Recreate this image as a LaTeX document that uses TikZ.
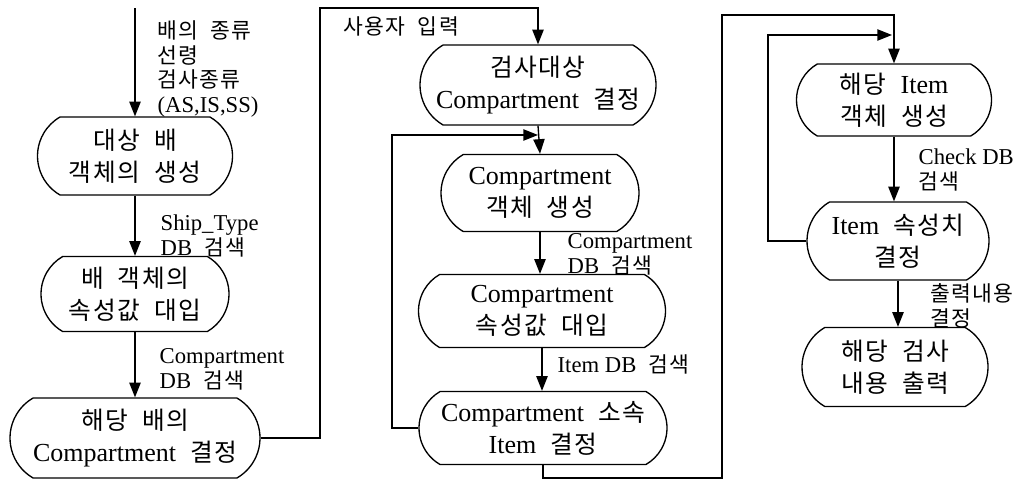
\documentclass[tikz,border=0pt]{standalone}
\usepackage{fontspec}
\setmainfont{Liberation Serif}
\newfontfamily\kr{Noto Sans CJK KR}[Scale=0.95,LetterSpace=6,WordSpace=2]
\usetikzlibrary{shapes.misc,arrows.meta,calc}
\newcommand\K[1]{{\kr #1}}
\tikzset{
  proc/.style 2 args={draw, rounded rectangle, rounded rectangle arc length=120,
    minimum width=#1*0.75pt, minimum height=#2*0.75pt, inner sep=0pt, align=center,
    font=\fontsize{19.5pt}{24pt}\selectfont},
  lbl/.style={anchor=north west, inner sep=0pt, align=left,
    font=\fontsize{17pt}{18.5pt}\selectfont},
  arr/.style={-{Triangle[length=11pt,width=8.5pt]}},
}
\begin{document}
\begin{tikzpicture}[x=0.75pt, y=-0.75pt, line width=1pt]
\useasboundingbox (0,0) rectangle (1027,480);
% column 1
\node[proc={195}{78}] (n1) at (135,156) {\K{대상 배}\\\K{객체의 생성}};
\node[proc={188}{75}] (n2) at (135,294) {\K{배 객체의}\\\K{속성값 대입}};
\node[proc={250}{80}] (n3) at (135,438) {\K{해당 배의}\\Compartment\K{ 결정}};
% column 2
\node[proc={236}{80}] (n4) at (538,85) {\K{검사대상}\\Compartment\K{ 결정}};
\node[proc={198}{77}] (n5) at (540,193) {Compartment\\\K{객체 생성}};
\node[proc={247}{73}] (n6) at (542,311) {Compartment\\\K{속성값 대입}};
\node[proc={248}{73}] (n7) at (543,428) {Compartment\K{ 소속}\\Item\K{ 결정}};
% column 3
\node[proc={195}{72}] (n8) at (894,100) {\K{해당 }Item\\\K{객체 생성}};
\node[proc={182}{78}] (n9) at (898,241) {Item\K{ 속성치}\\\K{결정}};
\node[proc={186}{79}] (n10) at (895,367) {\K{해당 검사}\\\K{내용 출력}};
% labels
\node[lbl] (l1) at (157,20) {\K{배의 종류}\\\K{선령}\\\K{검사종류}\\(AS,IS,SS)};
\node[lbl] (l2) at (160,214) {Ship\_Type\\DB\K{ 검색}};
\node[lbl] (l3) at (159,348) {Compartment\\DB\K{ 검색}};
\node[lbl] (l4) at (343,16) {\K{사용자 입력}};
\node[lbl] (l5) at (567,233) {Compartment\\DB\K{ 검색}};
\node[lbl] (l6) at (557,354) {Item DB\K{ 검색}};
\node[lbl] (l7) at (918,148) {Check DB\\\K{검색}};
\node[lbl] (l8) at (930,283) {\K{출력내용}\\\K{결정}};
% coordinates
\coordinate (s1) at (135,8);
\coordinate (a1) at (320,8);
\coordinate (fb1) at (392,135);
\coordinate (fb1e) at (538,135);
\coordinate (b1) at (722,478);
\coordinate (b2) at (722,15);
\coordinate (fb2) at (768,35);
\coordinate (fb2e) at (892,35);
% connectors
\draw[arr] (s1) -- (n1.north);
\draw[arr] (n1.south) -- (n2.north);
\draw[arr] (n2.south) -- (n3.north);
\draw[arr] (n3.east) -| (a1) -| (n4.north);
\draw[arr] (n4.south) -- (n5.north);
\draw[arr] (n5.south) -- (n5.south |- n6.north);
\draw[arr] (n6.south) -- (n6.south |- n7.north);
\draw[arr] (n7.west) -| (fb1) -- (fb1e);
\draw[arr] (n7.south) |- (b1) -- (b2) -| (n8.north);
\draw[arr] (n8.south) -- (n8.south |- n9.north);
\draw[arr] (n9.west) -| (fb2) -- (fb2e);
\draw[arr] (n9.south) -- (n9.south |- n10.north);
\end{tikzpicture}
\end{document}
